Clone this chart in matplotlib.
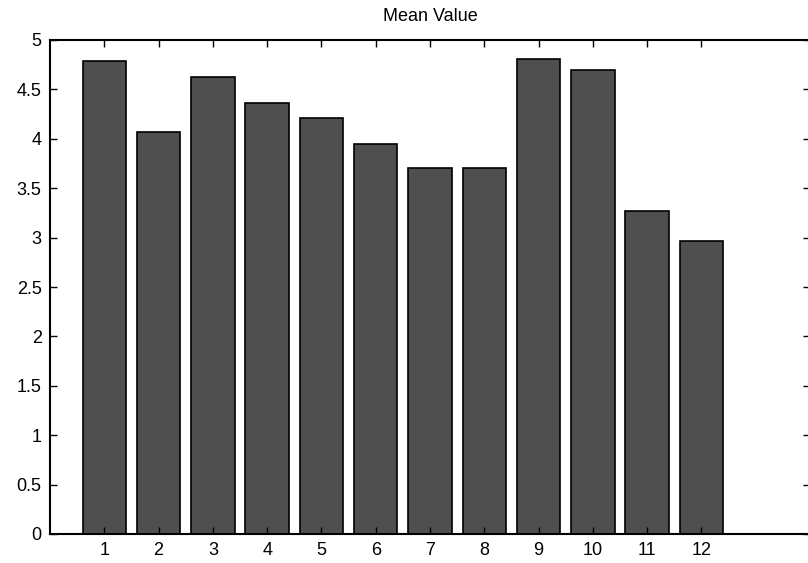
import matplotlib
matplotlib.use("Agg")
import matplotlib.pyplot as plt

categories = list(range(1, 13))
mean_values = [4.79, 4.07, 4.63, 4.36, 4.21, 3.95, 3.70, 3.70, 4.81, 4.70, 3.27, 2.97]
y_ticks = [0, 0.5, 1, 1.5, 2, 2.5, 3, 3.5, 4, 4.5, 5]
y_tick_labels = ["0", "0.5", "1", "1.5", "2", "2.5", "3", "3.5", "4", "4.5", "5"]
x_tick_labels = [str(c) for c in categories]

plt.rcParams['font.family'] = ['Liberation Sans', 'DejaVu Sans']

fig = plt.figure(figsize=(8.08, 5.63), dpi=100)
W, H = 808, 563
left, right, top, bottom = 50, 810, 40, 534
ax = fig.add_axes([left / W, 1 - bottom / H, (right - left) / W, (bottom - top) / H])

ax.bar(categories, mean_values, width=0.8, color="#4f4f4f", edgecolor="black", linewidth=1.2)

ax.set_xlim(0, 14)
ax.set_ylim(0, 5)
ax.set_xticks(categories)
ax.set_xticklabels(x_tick_labels, fontsize=13)
ax.set_yticks(y_ticks)
ax.set_yticklabels(y_tick_labels, fontsize=13)
ax.tick_params(direction="in", length=5, width=1, top=True, right=True, pad=6)
for s in ax.spines.values():
    s.set_linewidth(1.5)

ax.set_title("Mean Value", fontsize=13, pad=14)

fig.savefig("out.png", dpi=100, facecolor="white")
